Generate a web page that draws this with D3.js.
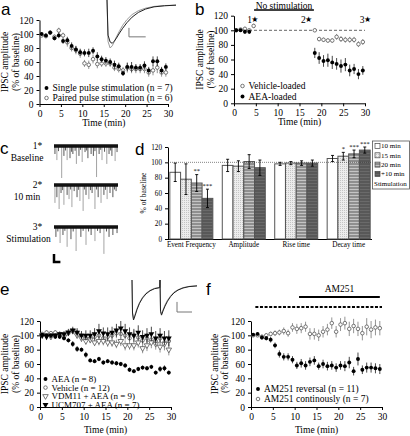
<!DOCTYPE html>
<html><head><meta charset="utf-8">
<script src="https://cdn.jsdelivr.net/npm/d3@7"></script>
<style>
html,body{margin:0;padding:0;background:#fff;}
</style></head><body>
<svg id="fig" width="410" height="436"></svg>
<script>
// ---------------- DATA ----------------
const minutes = [0.5,1.5,2.5,3.5,4.5,5.5,6.5,7.5,8.5,9.5,10.5,11.5,12.5,13.5,14.5,15.5,16.5,17.5,18.5,19.5,20.5,21.5,22.5,23.5,24.5,25.5,26.5,27.5,28.5,29.5];
const timeTicks = [0,5,10,15,20,25,30];
const ampTicks = [0,20,40,60,80,100,120];

// panel a
const singleA    = [100,98,102,94,98,90,91,83,78,74,73,73,76,68,64,62,60,56,54,44,53,53,52,52,55,48,61,61,48,53];
const singleAErr = [2,3,3,3,4,4,5,5,5,5,5,6,5,6,5,5,5,6,5,4,6,7,5,5,6,5,7,7,5,5];
const pairedA    = [98,97,102,96,105,98,88,80,77,72,58,56,64,57,58,58,58,52,50,48,52,50,50,50,50,45,48,52,45,45];
const pairedAErr = [2,3,3,3,4,4,6,5,6,6,5,6,6,6,5,5,5,5,5,5,7,6,6,6,6,6,7,8,6,6];
const legendA = ["Single pulse stimulation (n = 7)", "Paired pulse stimulation (n = 6)"];

// panel a inset (ms, normalised current)
const insetATime  = [0,1,3,5,7,9,12,15,19,24,30,37,45,55,66];
const insetAGray  = [0.12,-0.85,-1.0,-0.95,-0.85,-0.74,-0.6,-0.47,-0.34,-0.22,-0.13,-0.07,-0.03,-0.01,0];
const insetABlack = [0.12,-0.7,-0.86,-0.89,-0.84,-0.77,-0.65,-0.54,-0.41,-0.28,-0.17,-0.09,-0.04,-0.015,0];

// panel b
const vehBTime = [0.5,1.5,2.5,3.5,4.5,18.5,19.5,20.5,21.5,22.5,23.5,24.5,25.5,26.5,27.5,28.5,29.5];
const vehB     = [100,101,102,100,106,100,88,87,86,86,91,88,87,87,87,81,84];
const vehBErr  = [2,2,3,2,3,2,3,3,3,3,4,4,4,4,4,4,4];
const aeaBTime = [0.5,1.5,2.5,3.5,18.5,19.5,20.5,21.5,22.5,23.5,24.5,25.5,26.5,27.5,28.5,29.5];
const aeaB     = [100,100,98,98,69,62,58,59,56,54,51,53,45,47,40,45];
const aeaBErr  = [2,2,3,3,7,8,8,9,9,8,9,9,8,7,7,6];
const legendB = ["Vehicle-loaded", "AEA-loaded"];
const starTimes = [4.8, 17.1, 30.6];
const starLabels = ["1","2","3"];

// panel c (spontaneous IPSC events: time s, amplitude pA)
const cLabels = [["1*","Baseline"],["2*","10 min"],["3*","Stimulation"]];
const trace1T = [0.03,0.09,0.14,0.24,0.31,0.36,0.41,0.50,0.55,0.59,0.66,0.70,0.78,0.83,0.88,0.97,1.02,1.06,1.16,1.23,1.28,1.33,1.41,1.46,1.50,1.58,1.65,1.72,1.77,1.81,1.91,1.97];
const trace1A = [25,44,16,100,31,14,44,38,18,25,15,56,31,12,50,19,14,38,25,31,16,97,25,12,44,18,56,25,14,31,47,19];
const trace2T = [0.03,0.09,0.16,0.22,0.27,0.31,0.41,0.47,0.52,0.56,0.63,0.72,0.77,0.81,0.91,0.95,1.00,1.09,1.14,1.19,1.28,1.33,1.38,1.47,1.56,1.61,1.66,1.75,1.84,1.89,1.94];
const trace2A = [56,38,75,25,16,62,31,44,14,69,19,38,15,50,81,14,31,44,16,25,75,14,38,56,31,15,44,25,38,14,19];
const trace3T = [0.06,0.12,0.19,0.28,0.34,0.41,0.53,0.60,0.69,0.84,0.91,1.00,1.08,1.16,1.28,1.36,1.44,1.56,1.64,1.72,1.84,1.97];
const trace3A = [31,14,50,25,12,62,38,14,75,31,12,56,14,25,44,12,19,84,14,31,25,19];

// panel d
const dCategories = ["Event Frequency","Amplitude","Rise time","Decay time"];
const dSeries = ["10 min","15 min","20 min","+10 min"];
const dLegendExtra = "Stimulation";
const dValues = [[87,78,73,53],[96,95,101,93],[98,99,99,99],[105,108,111,116]];
const dErrors = [[12,20,11,12],[8,7,9,10],[2,2,3,4],[4,5,5,4]];
const dStars  = [["","","**","***"],["","","",""],["","","",""],["","*","***","***"]];

// panel e
const aeaE    = [101,100,100,98,98,96,93,88,81,80,73,65,64,67,62,64,62,61,60,58,52,50,53,55,54,56,48,53,54,48];
const aeaEErr = [2,2,2,2,3,3,3,4,4,3,4,3,3,3,3,3,3,3,3,3,3,3,3,3,3,3,3,4,4,3];
const vehE    = [102,104,103,104,102,100,103,106,104,100,96,96,98,100,96,98,100,103,102,100,96,100,97,93,96,94,92,96,90,92];
const vehEErr = [2,3,3,3,3,3,4,4,4,4,5,5,6,6,5,6,6,7,7,6,6,7,6,6,7,7,7,7,8,8];
const vdmE    = [100,100,98,100,100,98,104,106,100,96,92,94,90,92,92,90,90,88,92,86,86,86,90,82,86,90,88,84,88,80];
const vdmEErr = [2,2,3,3,3,3,4,4,4,5,5,5,5,6,6,6,6,6,7,7,6,7,7,7,8,8,8,8,9,8];
const ucmE    = [100,98,100,100,102,102,104,107,104,100,100,100,102,106,103,102,104,107,110,106,102,100,104,98,100,102,96,100,96,96];
const ucmEErr = [2,3,3,3,3,4,5,5,6,6,7,7,8,10,8,9,8,9,10,10,9,9,10,9,10,10,10,10,10,11];
const legendE = ["AEA (n = 8)","Vehicle (n = 12)","VDM11 + AEA (n = 9)","UCM707 + AEA (n = 7)"];
const insetETime  = [0,1,3,6,10,15,21,28,36,45,55.5,56,57,59,62,66,71,77,84,92,102,114,130];
const insetEBlack = [0.15,-0.8,-1.0,-0.88,-0.7,-0.52,-0.37,-0.25,-0.16,-0.1,-0.07,0.15,-0.75,-0.86,-0.74,-0.6,-0.46,-0.33,-0.22,-0.14,-0.08,-0.04,-0.02];
const insetEGray  = [0.15,-0.78,-0.97,-0.85,-0.67,-0.5,-0.35,-0.23,-0.15,-0.09,-0.06,0.15,-0.72,-0.83,-0.71,-0.57,-0.43,-0.31,-0.2,-0.13,-0.07,-0.035,-0.015];

// panel f
const revF    = [101,102,97,96,94,86,74,70,70,66,58,61,58,63,65,57,60,57,58,55,58,57,62,50,67,52,55,55,54,53];
const revFErr = [2,2,3,3,4,4,5,5,5,5,5,6,6,6,6,5,6,6,6,6,6,7,8,6,9,6,7,7,7,7];
const contF    = [100,100,98,100,102,103,104,106,103,111,109,110,112,102,102,100,105,108,117,105,115,117,109,113,109,103,112,108,111,110];
const contFErr = [2,2,3,3,3,4,4,5,5,6,7,7,7,8,8,8,8,8,8,8,9,9,10,10,10,10,12,12,11,10];
const legendF = ["AM251 reversal (n = 11)","AM251 continously (n = 7)"];
const drugLabel = "AM251";
const dashedSpan = [1, 30];
const drugSpan = [11, 29.5];

// ---------------- DRAWING ----------------
const SERIF = '"Liberation Serif","Times New Roman",serif';
const SANS = '"Liberation Sans",Arial,sans-serif';
const FS = 9.5;
const svg = d3.select('#fig');
svg.append('rect').attr('width',410).attr('height',436).attr('fill','#fff');

function txt(x,y,s,opt={}) {
  const t = svg.append('text').attr('x',x).attr('y',y).text(s)
    .attr('font-family',opt.family||SERIF).attr('font-size',opt.size||FS)
    .attr('text-anchor',opt.anchor||'start').attr('fill',opt.fill||'#000');
  if (opt.dy) t.attr('dy',opt.dy);
  return t;
}

const SYM = {
  fcircle:{type:d3.symbolCircle,size:12,fill:'#000',stroke:'none',rot:0,err:'#333'},
  ocircle:{type:d3.symbolCircle,size:10,fill:'#fff',stroke:'#555',rot:0,err:'#888'},
  otri:{type:d3.symbolTriangle,size:13,fill:'#fff',stroke:'#555',rot:180,err:'#888'},
  ftri:{type:d3.symbolTriangle,size:15,fill:'#000',stroke:'none',rot:180,err:'#333'}
};
function marker(g,kind,cx,cy){
  const s = SYM[kind];
  g.append('path').attr('d',d3.symbol().type(s.type).size(s.size)())
   .attr('transform',`translate(${cx},${cy}) rotate(${s.rot})`)
   .attr('fill',s.fill).attr('stroke',s.stroke).attr('stroke-width',0.8);
}

function timePanel(p){
  const x = d3.scaleLinear().domain([0,30]).range([p.left,p.right]);
  const y = d3.scaleLinear().domain([0,120]).range([p.bottom,p.top]);
  const gx = svg.append('g').attr('transform',`translate(0,${p.bottom})`)
    .call(d3.axisBottom(x).tickValues(timeTicks).tickSize(3).tickSizeOuter(0));
  const gy = svg.append('g').attr('transform',`translate(${p.left},0)`)
    .call(d3.axisLeft(y).tickValues(ampTicks).tickSize(3).tickSizeOuter(0));
  [gx,gy].forEach(g=>{g.attr('font-family',SERIF).attr('font-size',FS);
    g.selectAll('text').attr('fill','#000'); g.selectAll('line,path').attr('stroke','#000');});
  txt((p.left+p.right)/2, p.bottom+p.titleOff, 'Time (min)', {anchor:'middle'});
  ['IPSC amplitude','(% of baseline)'].forEach((s,i)=>{
    svg.append('text').attr('transform',`translate(${p.yTitleX[i]},${(p.top+p.bottom)/2}) rotate(-90)`)
      .attr('text-anchor','middle').attr('dy','0.35em').attr('font-family',SERIF).attr('font-size',FS).text(s);
  });
  if (p.pre) p.pre(x,y);
  p.series.forEach(s=>{
    const g = svg.append('g');
    s.t.forEach((t,i)=>{
      g.append('line').attr('x1',x(t)).attr('x2',x(t)).attr('y1',y(s.v[i]-s.e[i])).attr('y2',y(s.v[i]+s.e[i]))
       .attr('stroke',SYM[s.sym].err).attr('stroke-width',0.9);
    });
    s.t.forEach((t,i)=>marker(g,s.sym,x(t),y(s.v[i])));
  });
  // legend
  p.legend.forEach((l,i)=>{
    const yy = p.legY + i*p.legDy;
    marker(svg,p.series[p.legOrder[i]].sym,p.legX,yy);
    txt(p.legX+6,yy,l,{dy:'0.35em',size:p.legFS||FS});
  });
  return {x,y};
}

// Panel a
timePanel({left:39.5,right:168,bottom:104,top:20,titleOff:21.5,yTitleX:[5,15.5],
  series:[{t:minutes,v:pairedA,e:pairedAErr,sym:'ocircle'},{t:minutes,v:singleA,e:singleAErr,sym:'fcircle'}],
  legend:legendA,legOrder:[1,0],legX:46.5,legY:88,legDy:10});
// inset a
(function(){
  const x = d3.scaleLinear().domain([0,66]).range([107,176]);
  const y = d3.scaleLinear().domain([0.12,-1]).range([0,48]);
  const ln = d3.line().x(d=>x(d[0])).y(d=>y(d[1]));
  svg.append('path').attr('d',ln(insetATime.map((t,i)=>[t,insetAGray[i]]))).attr('fill','none').attr('stroke','#999').attr('stroke-width',1);
  svg.append('path').attr('d',ln(insetATime.map((t,i)=>[t,insetABlack[i]]))).attr('fill','none').attr('stroke','#222').attr('stroke-width',1);
  svg.append('path').attr('d',`M${x(21)},${y(-0.53)}V${y(-0.74)}H${x(37)}`).attr('fill','none').attr('stroke','#777').attr('stroke-width',1);
})();

// Panel b
timePanel({left:234,right:365,bottom:103.3,top:15.7,titleOff:21.5,yTitleX:[200,210.5],
  pre:(x,y)=>{
    svg.append('line').attr('x1',x(0)).attr('x2',x(30)).attr('y1',y(100)).attr('y2',y(100))
      .attr('stroke','#555').attr('stroke-width',0.9).attr('stroke-dasharray','3,2');
    starTimes.forEach((t,i)=>{
      txt(x(t)-3,19.5,starLabels[i],{anchor:'end',dy:'0.35em'});
      txt(x(t),19.5,'★',{anchor:'middle',dy:'0.35em',family:'DejaVu Sans',size:8});
    });
    txt(284,8.5,'No stimulation',{anchor:'middle'});
    svg.append('line').attr('x1',x(4.6)).attr('x2',x(18.3)).attr('y1',10).attr('y2',10).attr('stroke','#000').attr('stroke-width',1.3);
  },
  series:[{t:vehBTime,v:vehB,e:vehBErr,sym:'ocircle'},{t:aeaBTime,v:aeaB,e:aeaBErr,sym:'fcircle'}],
  legend:legendB,legOrder:[0,1],legX:242.5,legY:86,legDy:10.5});

// Panel c
(function(){
  const x = d3.scaleLinear().domain([0,2]).range([54,118]);
  const amp = d3.scaleLinear().domain([0,100]).range([0,32]);
  const bases = [146,185,227];
  const traces = [[trace1T,trace1A],[trace2T,trace2A],[trace3T,trace3A]];
  traces.forEach(([T,A],k)=>{
    const b = bases[k];
    const g = svg.append('g');
    T.forEach((t,i)=>{
      g.append('line').attr('x1',x(t)).attr('x2',x(t)).attr('y1',b).attr('y2',b+amp(A[i]))
        .attr('stroke',A[i]>40?'#999':'#444').attr('stroke-width',0.9);
    });
    g.append('line').attr('x1',x(0)).attr('x2',x(2)).attr('y1',b).attr('y2',b).attr('stroke','#111').attr('stroke-width',3.5);
    txt(37.5,b,cLabels[k][0],{anchor:'middle',dy:'0.35em'});
    txt(k==2?28.5:27,b+(k==2?12:11.5),cLabels[k][1],{anchor:'middle',dy:'0.35em'});
  });
  svg.append('path').attr('d',`M${x(0)},${bases[2]+27}V${bases[2]+35}H${x(0.2)}`).attr('fill','none').attr('stroke','#000').attr('stroke-width',2.5);
})();

// Panel d
(function(){
  const defs = svg.append('defs');
  const p1 = defs.append('pattern').attr('id','pDots').attr('width',2).attr('height',2).attr('patternUnits','userSpaceOnUse');
  p1.append('rect').attr('width',2).attr('height',2).attr('fill','#ececec');
  p1.append('rect').attr('width',1).attr('height',1).attr('fill','#c4c4c4');
  const p2 = defs.append('pattern').attr('id','pStripes').attr('width',3).attr('height',3).attr('patternUnits','userSpaceOnUse');
  p2.append('rect').attr('width',3).attr('height',3).attr('fill','#8f8f8f');
  p2.append('rect').attr('width',3).attr('height',1).attr('fill','#c4c4c4');
  const p3 = defs.append('pattern').attr('id','pDark').attr('width',3).attr('height',3).attr('patternUnits','userSpaceOnUse');
  p3.append('rect').attr('width',3).attr('height',3).attr('fill','#585858');
  p3.append('rect').attr('width',3).attr('height',1).attr('fill','#6a6a6a');
  const fills = ['#fff','url(#pDots)','url(#pStripes)','url(#pDark)'];

  const x0 = d3.scaleBand().domain(dCategories).range([168,372]).paddingInner(0.18).paddingOuter(0.035);
  const x1 = d3.scaleBand().domain(d3.range(dSeries.length)).range([0,x0.bandwidth()]);
  const y = d3.scaleLinear().domain([0,120]).range([239,147]);
  const gy = svg.append('g').attr('transform','translate(168,0)').call(d3.axisLeft(y).tickValues(ampTicks).tickSize(3).tickSizeOuter(0));
  const gx = svg.append('g').attr('transform','translate(0,239)').call(d3.axisBottom(x0).tickSize(0).tickSizeOuter(0));
  gx.select('.domain').attr('d','M168,0.5H372');
  [gx,gy].forEach(g=>{g.attr('font-family',SERIF).attr('font-size',7.2);
    g.selectAll('text').attr('fill','#000'); g.selectAll('line,path').attr('stroke','#000');});
  svg.append('text').attr('transform',`translate(143,193) rotate(-90)`).attr('text-anchor','middle').attr('dy','0.35em')
    .attr('font-family',SERIF).attr('font-size',7.5).text('% of baseline');
  dCategories.forEach((c,ci)=>{
    dValues[ci].forEach((v,si)=>{
      const bx = x0(c)+x1(si), w = x1.bandwidth();
      svg.append('rect').attr('x',bx).attr('y',y(v)).attr('width',w).attr('height',y(0)-y(v))
        .attr('fill',fills[si]).attr('stroke','#555').attr('stroke-width',1);
    });
  });
  svg.append('line').attr('x1',168).attr('x2',372).attr('y1',y(100)).attr('y2',y(100))
    .attr('stroke','#333').attr('stroke-width',0.6).attr('stroke-dasharray','1,1');
  dCategories.forEach((c,ci)=>{
    dValues[ci].forEach((v,si)=>{
      const cx = x0(c)+x1(si)+x1.bandwidth()/2, e = dErrors[ci][si];
      const g = svg.append('g').attr('stroke','#000').attr('stroke-width',0.9);
      g.append('line').attr('x1',cx).attr('x2',cx).attr('y1',y(v-e)).attr('y2',y(v+e));
      g.append('line').attr('x1',cx-1.5).attr('x2',cx+1.5).attr('y1',y(v-e)).attr('y2',y(v-e));
      g.append('line').attr('x1',cx-1.5).attr('x2',cx+1.5).attr('y1',y(v+e)).attr('y2',y(v+e));
      if (dStars[ci][si]) txt(cx,y(v+e)-1.5,dStars[ci][si],{anchor:'middle',size:6.5});
    });
  });
  // legend
  svg.append('rect').attr('x',372.5).attr('y',141).attr('width',37).attr('height',48).attr('fill','#fff').attr('stroke','#555').attr('stroke-width',0.8);
  dSeries.forEach((s,i)=>{
    const yy = 146+i*9.3;
    svg.append('rect').attr('x',375).attr('y',yy-2.5).attr('width',5).attr('height',5).attr('fill',fills[i]).attr('stroke','#444').attr('stroke-width',0.7);
    txt(381,yy,s,{dy:'0.35em',size:7});
  });
  txt(374,146+4*9.3,dLegendExtra,{dy:'0.35em',size:7});
})();

// Panel e
timePanel({left:40,right:171,bottom:407,top:321,titleOff:26,yTitleX:[5,15.5],
  series:[{t:minutes,v:vehE,e:vehEErr,sym:'ocircle'},{t:minutes,v:vdmE,e:vdmEErr,sym:'otri'},
          {t:minutes,v:ucmE,e:ucmEErr,sym:'ftri'},{t:minutes,v:aeaE,e:aeaEErr,sym:'fcircle'}],
  legend:legendE,legOrder:[3,0,1,2],legX:45.5,legY:379,legDy:8.6,legFS:9});
(function(){
  const x = d3.scaleLinear().domain([0,130]).range([132,197]);
  const y = d3.scaleLinear().domain([0.15,-1]).range([280,320]);
  const ln = d3.line().x(d=>x(d[0])).y(d=>y(d[1]));
  svg.append('path').attr('d',ln(insetETime.map((t,i)=>[t,insetEGray[i]]))).attr('fill','none').attr('stroke','#999').attr('stroke-width',1);
  svg.append('path').attr('d',ln(insetETime.map((t,i)=>[t,insetEBlack[i]]))).attr('fill','none').attr('stroke','#222').attr('stroke-width',1);
  svg.append('path').attr('d',`M${x(90)},${y(-0.48)}V${y(-0.77)}H${x(120)}`).attr('fill','none').attr('stroke','#777').attr('stroke-width',1);
})();

// Panel f
timePanel({left:251,right:382,bottom:407,top:321,titleOff:26,yTitleX:[215,225],
  pre:(x,y)=>{
    svg.append('line').attr('x1',x(dashedSpan[0])).attr('x2',x(dashedSpan[1])).attr('y1',307).attr('y2',307)
      .attr('stroke','#000').attr('stroke-width',2).attr('stroke-dasharray','3,1.6');
    svg.append('line').attr('x1',x(drugSpan[0])).attr('x2',x(drugSpan[1])).attr('y1',297).attr('y2',297)
      .attr('stroke','#000').attr('stroke-width',1.8);
    txt((x(drugSpan[0])+x(drugSpan[1]))/2,288.5,drugLabel,{anchor:'middle',dy:'0.35em'});
  },
  series:[{t:minutes,v:contF,e:contFErr,sym:'ocircle'},{t:minutes,v:revF,e:revFErr,sym:'fcircle'}],
  legend:legendF,legOrder:[1,0],legX:258,legY:389,legDy:10});

// panel letters
[['a',1,15],['b',195,14.5],['c',0,154],['d',135,155],['e',0,295],['f',206,295]].forEach(([s,x,y])=>{
  txt(x,y,s,{family:SANS,size:17});
});
</script>
</body></html>
